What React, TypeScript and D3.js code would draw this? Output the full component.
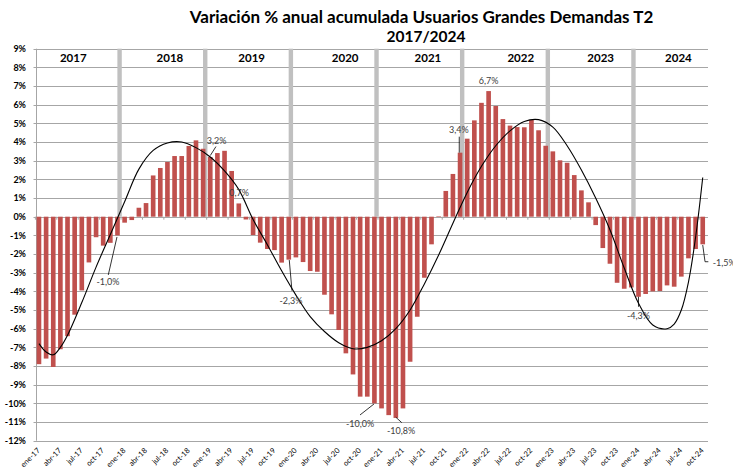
import React from 'react';
import * as d3 from 'd3';

const monthNames = ['ene', 'feb', 'mar', 'abr', 'may', 'jun', 'jul', 'ago', 'sep', 'oct', 'nov', 'dic'];
const years = ['17', '18', '19', '20', '21', '22', '23', '24'];
const yearTitles = ['2017', '2018', '2019', '2020', '2021', '2022', '2023', '2024'];

// variación % mensual acumulada, por año
const v2017 = [-7.9, -7.6, -8.05, -7.1, -6.4, -5.25, -3.95, -2.45, -1.1, -1.55, -1.4, -1.0];
const v2018 = [-0.32, -0.18, 0.48, 0.73, 2.21, 2.61, 2.93, 3.25, 3.25, 3.79, 4.09, 3.64];
const v2019 = [3.2, 3.41, 3.53, 2.45, 0.71, -0.15, -0.98, -1.39, -1.73, -1.79, -2.46, -2.3];
const v2020 = [-2.18, -2.43, -2.91, -2.95, -4.18, -5.23, -6.07, -7.32, -8.45, -9.64, -9.64, -10.0];
const v2021 = [-10.27, -10.63, -10.78, -10.27, -7.77, -5.36, -3.27, -1.48, 0.03, 1.38, 2.29, 3.43];
const v2022 = [4.18, 5.16, 6.1, 6.73, 5.93, 5.23, 4.88, 4.8, 4.79, 5.18, 4.63, 3.8];
const v2023 = [3.5, 3.02, 2.89, 2.23, 1.41, 0.77, -0.45, -1.68, -2.52, -3.54, -3.86, -3.79];
const v2024 = [-4.29, -4.14, -4.0, -3.98, -3.68, -3.75, -3.21, -2.23, -1.73, -1.48];

// línea de tendencia: índice de mes y valor
const trendIdx = [0, 1, 2, 3, 4, 6, 8, 10, 12, 14, 16, 18, 20, 22, 24, 26, 28, 30, 32, 34, 36, 38, 40, 42, 44, 46, 48, 50, 52, 54, 56, 58, 60, 62, 64, 66, 68, 70, 72, 74, 76, 78, 80, 82, 84, 86, 88, 89, 90, 91, 92, 93];
const trendVal = [-6.8, -7.25, -7.4, -7.0, -6.35, -4.6, -2.7, -0.95, 0.8, 2.55, 3.55, 3.95, 4.0, 3.7, 3.2, 2.45, 1.45, -0.15, -1.5, -2.9, -4.2, -5.35, -6.15, -6.75, -7.07, -7.0, -6.65, -6.0, -5.0, -3.6, -2.05, -0.35, 1.3, 2.7, 3.8, 4.6, 5.1, 5.2, 4.8, 3.8, 2.5, 1.0, -0.7, -2.75, -4.64, -5.8, -6.0, -5.75, -5.0, -3.5, -1.1, 2.1];

const values = [...v2017, ...v2018, ...v2019, ...v2020, ...v2021, ...v2022, ...v2023, ...v2024];
const months = years.flatMap((yy) => monthNames.map((m) => `${m}-${yy}`)).slice(0, values.length);

// etiquetas de datos: mes, posición del texto y guía relativas al extremo de la barra
const labelMonths = ['dic-17', 'ene-19', 'may-19', 'dic-19', 'dic-20', 'mar-21', 'dic-21', 'abr-22', 'ene-24', 'oct-24'];
const labelLayout = [
  { tx: -9.5, ty: 46.6, lead: [[-0.5, 1.6], [-9.2, 39.6]] },
  { tx: 6.4, ty: -16.4, lead: [[0, -1.4], [5.7, -10.4]] },
  { tx: 0.2, ty: -10.1, lead: null },
  { tx: 2.2, ty: 41.1, lead: [[0.5, 0.4], [3.2, 31.1]] },
  { tx: -14.4, ty: 20.6, lead: [[-0.4, 0.6], [-14.4, 11.6]] },
  { tx: 5.2, ty: 13.3, lead: [[0, -0.7], [5.9, 4.7]] },
  { tx: -1.1, ty: -22.7, lead: [[-0.8, -16], [-0.8, 0]] },
  { tx: 0, ty: -10, lead: null },
  { tx: 0, ty: 19.2, lead: [[0, 0], [0, 10]] },
  { tx: 10, ty: 18.4, lead: [[0, 0.7], [2.3, 17.4], [5.6, 17.4]], start: true },
];
// posición de los rótulos de año (en meses desde enero de cada año)
const yearLabelOffset = [4.8, 6.35, 5.8, 6.9, 6.5, 7.5, 6.7, 5.6];

const FONT = "Lato, 'Open Sans', sans-serif";
const BAR = '#C0504D';
const GRID = '#A6A6A6';

export default function App() {
  const width = 733;
  const height = 467;
  const plotLeft = 36.5;
  const plotRight = 708;

  const x = d3.scaleBand<string>().domain(months).range([35.4, 706.3]).paddingInner(0.35).paddingOuter(0.175);
  const y = d3.scaleLinear().domain([-12, 9]).range([440.7, 48.7]);
  const bw = x.bandwidth();
  const step = x.step();
  const cx = (m: string) => (x(m) as number) + bw / 2;

  const trend = d3
    .line<number>()
    .x((d, i) => cx(months[trendIdx[i]]))
    .y((d) => y(d))
    .curve(d3.curveCatmullRom.alpha(0.5));

  const yTicks = d3.range(-12, 10);
  const decembers = months.filter((m) => m.startsWith('dic'));
  const tickMonths = months.filter((m, i) => i % 3 === 0);
  const fmt = (v: number) => v.toFixed(1).replace('.', ',') + '%';

  return (
    <svg width={width} height={height} style={{ position: 'absolute', left: 0, top: 0, background: '#fff' }}>
      {/* rejilla */}
      {yTicks.map((t) => (
        <line key={t} x1={plotLeft - 3} x2={plotRight} y1={Math.round(y(t)) + 0.5} y2={Math.round(y(t)) + 0.5} stroke={GRID} strokeWidth={1} />
      ))}
      <line x1={plotLeft} x2={plotLeft} y1={y(9)} y2={y(-12)} stroke={GRID} strokeWidth={1} />

      {/* separadores de año */}
      {decembers.map((m) => (
        <rect key={m} x={(x(m) as number) + bw / 2 - 0.1} y={y(9)} width={bw * 0.95} height={y(0) - y(9)} fill="#C0C0C0" />
      ))}

      {/* barras */}
      {values.map((v, i) => (
        <rect key={months[i]} x={x(months[i])} y={y(Math.max(0, v))} width={bw} height={Math.abs(y(v) - y(0))} fill={BAR} />
      ))}

      {/* marcas del eje de categorías */}
      {tickMonths.map((m) => (
        <line key={m} x1={(x(m) as number) - (step - bw) / 2} x2={(x(m) as number) - (step - bw) / 2} y1={y(0)} y2={y(0) + 3} stroke={GRID} />
      ))}

      {/* tendencia */}
      <path d={trend(trendVal) || ''} fill="none" stroke="#000" strokeWidth={1.1} />

      {/* etiquetas de datos */}
      {labelMonths.map((m, k) => {
        const i = months.indexOf(m);
        const bx = cx(m);
        const by = y(values[i]);
        const L = labelLayout[k];
        return (
          <g key={m}>
            {L.lead && (
              <polyline
                points={L.lead.map((p) => `${bx + p[0]},${by + p[1]}`).join(' ')}
                fill="none"
                stroke="#000"
                strokeWidth={0.8}
              />
            )}
            <text
              x={bx + L.tx}
              y={by + L.ty}
              dy="0.35em"
              textAnchor={L.start ? 'start' : 'middle'}
              fontFamily={FONT}
              fontSize={9}
              fill="#404040"
            >
              {fmt(values[i])}
            </text>
          </g>
        );
      })}

      {/* eje Y */}
      {yTicks.map((t) => (
        <text key={t} x={26} y={y(t)} dy="0.35em" textAnchor="end" fontFamily={FONT} fontSize={9} fontWeight="bold" fill="#000">
          {t}%
        </text>
      ))}

      {/* eje X */}
      {tickMonths.map((m) => (
        <text
          key={m}
          transform={`translate(${cx(m) + 1.5},${451}) rotate(-45)`}
          textAnchor="end"
          fontFamily={FONT}
          fontSize={7.5}
          fill="#000"
        >
          {m}
        </text>
      ))}

      {/* rótulos de año */}
      {yearTitles.map((yt, k) => (
        <text
          key={yt}
          x={cx(months[k * 12]) + yearLabelOffset[k] * step}
          y={62}
          textAnchor="middle"
          fontFamily={FONT}
          fontSize={11.5}
          fontWeight="bold"
          fill="#000"
        >
          {yt}
        </text>
      ))}

      {/* título */}
      <text x={421.5} y={22.5} textAnchor="middle" fontFamily={FONT} fontSize={17} fontWeight="bold" fill="#000">
        Variación % anual acumulada Usuarios Grandes Demandas T2
      </text>
      <text x={426} y={42} textAnchor="middle" fontFamily={FONT} fontSize={15.5} fontWeight="bold" fill="#000">
        2017/2024
      </text>
    </svg>
  );
}
